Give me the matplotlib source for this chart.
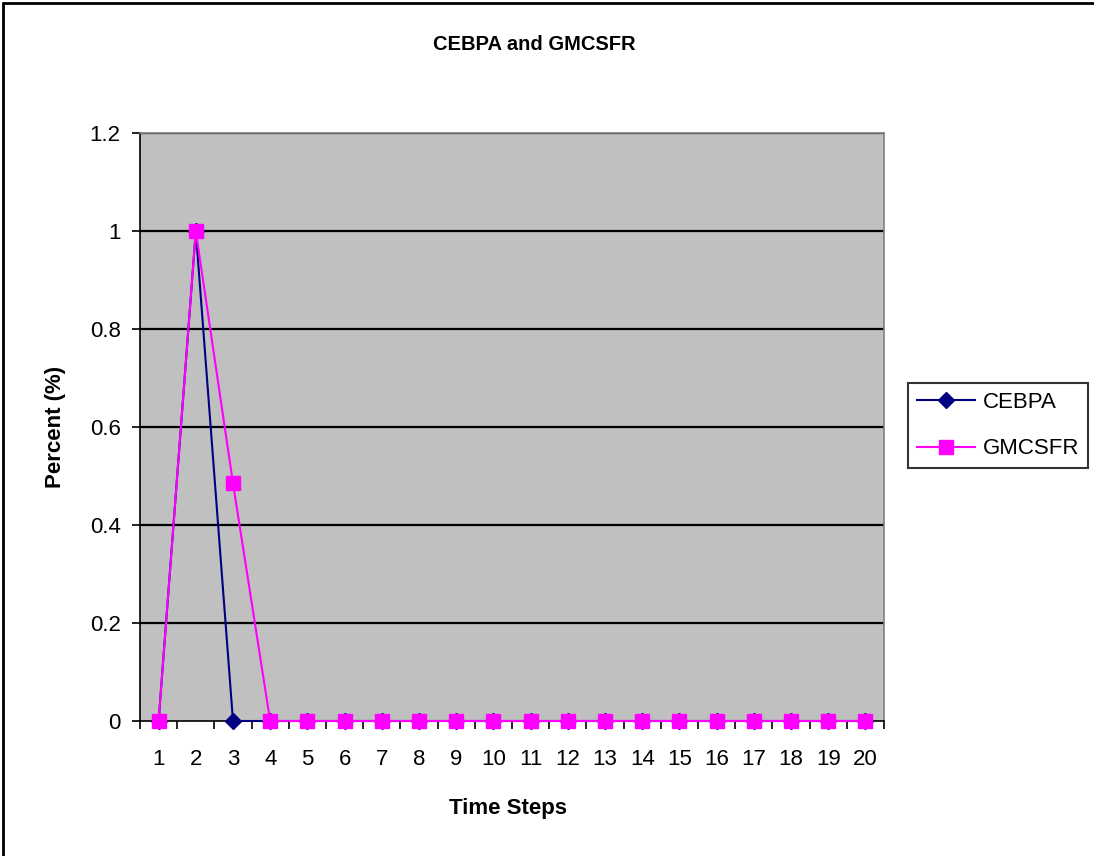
import matplotlib.pyplot as plt
from matplotlib.patches import Rectangle

plt.rcParams['font.family'] = ['Liberation Sans', 'DejaVu Sans']

# 时间步与两条曲线
steps = list(range(1, 21))
cebpa = [0, 1, 0] + [0] * 17
gmcsfr = [0, 1, 0.485] + [0] * 17
y_ticks = [0, 0.2, 0.4, 0.6, 0.8, 1, 1.2]
y_labels = ['0', '0.2', '0.4', '0.6', '0.8', '1', '1.2']

fig = plt.figure(figsize=(10.94, 8.56), dpi=100)
ax = fig.add_axes([140 / 1094, 1 - 721 / 856, 744 / 1094, 588 / 856])

ax.set_facecolor('#C0C0C0')
for s in ax.spines.values():
    s.set_color('#808080')
    s.set_linewidth(1.2)
ax.spines['left'].set_color('black')
ax.spines['bottom'].set_color('black')

for v in y_ticks[1:]:
    ax.axhline(v, color='black', lw=1.6, zorder=1)

ax.plot(steps, cebpa, color='#000080', lw=1.5, marker='D', ms=8,
        mfc='#000080', mec='#000080', label='CEBPA', zorder=3, clip_on=False)
ax.plot(steps, gmcsfr, color='#FF00FF', lw=1.5, marker='s', ms=9.5,
        mfc='#FF00FF', mec='#FF00FF', label='GMCSFR', zorder=4, clip_on=False)

ax.set_xlim(0.5, 20.5)
ax.set_ylim(0, 1.2)
ax.set_yticks(y_ticks)
ax.set_yticklabels(y_labels)
ax.set_xticks(steps)
ax.set_xticks([i + 0.5 for i in range(0, 21)], minor=True)
ax.tick_params(axis='x', which='major', length=0, pad=20, labelsize=16)
ax.tick_params(axis='x', which='minor', length=6, width=1.2, direction='out')
ax.tick_params(axis='y', length=6, width=1.2, direction='out', pad=8, labelsize=16)

ax.set_xlabel('Time Steps', fontsize=16, fontweight='bold', va='center')
ax.xaxis.set_label_coords(0.495, -0.148)
ax.set_ylabel('Percent (%)', fontsize=16, fontweight='bold', va='center')
ax.yaxis.set_label_coords(-0.114, 0.5)
fig.text(534 / 1094, 1 - 45 / 856, 'CEBPA and GMCSFR',
         ha='center', va='center', fontsize=14.5, fontweight='bold')

leg = fig.legend(loc='upper left', bbox_to_anchor=(908 / 1094, 1 - 383 / 856),
                 fontsize=16, frameon=True, fancybox=False, borderpad=0.4,
                 borderaxespad=0, handlelength=2.6, labelspacing=1.15,
                 handletextpad=0.35)
leg.get_frame().set_edgecolor('black')
leg.get_frame().set_linewidth(1.5)

# 外框
fig.patches.append(Rectangle((3 / 1094, -0.01), 1.02, 1 - 3 / 856 + 0.01,
                             transform=fig.transFigure, fill=False,
                             edgecolor='black', lw=2))

plt.savefig('out.png', dpi=100)
